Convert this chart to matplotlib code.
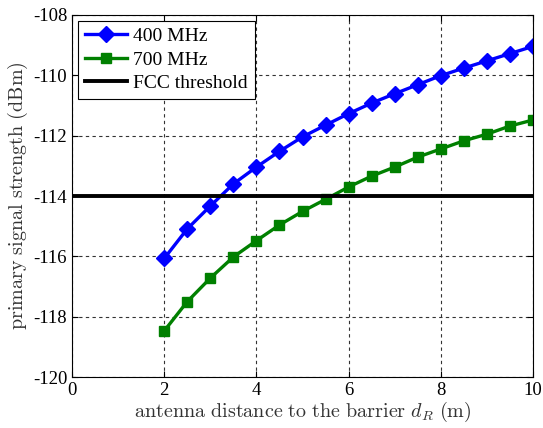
import numpy as np
import matplotlib.pyplot as plt

plt.rcParams['font.family'] = 'Liberation Serif'
plt.rcParams['mathtext.fontset'] = 'cm'
plt.rcParams['axes.unicode_minus'] = False

# antenna distance (m)
dist = [2, 2.5, 3, 3.5, 4, 4.5, 5, 5.5, 6, 6.5, 7, 7.5, 8, 8.5, 9, 9.5, 10]
# primary signal strength (dBm)
sig_400 = [-116.07, -115.09, -114.33, -113.6, -113.04, -112.52, -112.04, -111.65,
           -111.27, -110.92, -110.61, -110.31, -110.01, -109.76, -109.52, -109.28, -109.04]
sig_700 = [-118.47, -117.5, -116.72, -116.02, -115.48, -114.96, -114.51, -114.11,
           -113.7, -113.34, -113.04, -112.71, -112.44, -112.17, -111.95, -111.68, -111.48]
fcc_threshold = -114

fig = plt.figure(figsize=(5.43, 4.28), dpi=100)
ax = fig.add_axes([0.1326, 0.119, 0.849, 0.846])

ax.plot(dist, sig_400, color='#0000ff', lw=2.4, marker='D', ms=8, label='400 MHz')
ax.plot(dist, sig_700, color='#008000', lw=2.4, marker='s', ms=7.5, label='700 MHz')
ax.axhline(fcc_threshold, color='black', lw=2.8, label='FCC threshold')

ax.set_xlim(0, 10)
ax.set_ylim(-120, -108)
ax.set_xticks([0, 2, 4, 6, 8, 10])
ax.set_yticks([-120, -118, -116, -114, -112, -110, -108])
ax.tick_params(direction='in', labelsize=13.5, length=4, top=True, right=True)
ax.grid(True, color='#333333', linestyle=(0, (3, 3)), lw=0.8)

ax.set_xlabel(r'$\mathrm{antenna\ distance\ to\ the\ barrier}\ d_R\ \mathrm{(m)}$',
              fontsize=14.5, color='#333333', labelpad=1)
ax.set_ylabel(r'$\mathrm{primary\ signal\ strength\ (dBm)}$',
              fontsize=14.5, color='#333333', labelpad=2)

leg = ax.legend(loc='upper left', fontsize=14, fancybox=False, framealpha=1,
                edgecolor='black', handlelength=2.2, borderaxespad=0.3,
                labelspacing=0.3, handletextpad=0.3, borderpad=0.35)
leg.get_frame().set_linewidth(0.8)

fig.savefig('out.png', dpi=100)
